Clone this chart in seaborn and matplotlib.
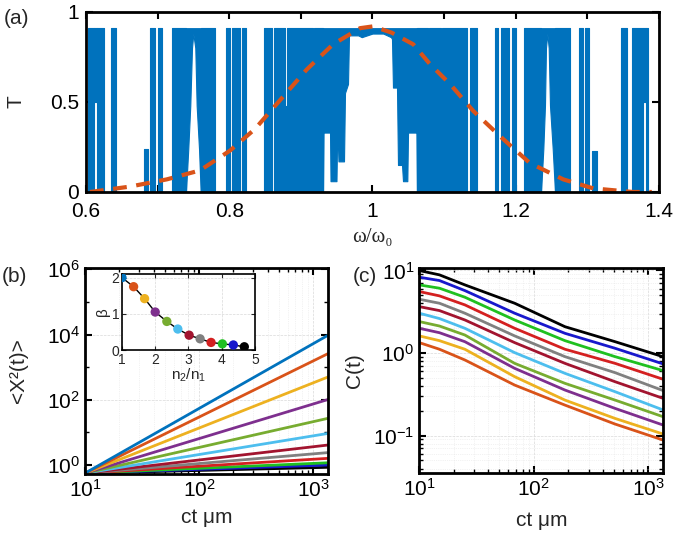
import numpy as np
import pandas as pd
import matplotlib
matplotlib.use("Agg")
import matplotlib.pyplot as plt
import matplotlib.ticker as mticker
import seaborn as sns

sns.set_style("ticks")
plt.rcParams['font.family'] = ['Liberation Sans', 'DejaVu Sans']
plt.rcParams['mathtext.fontset'] = 'custom'
plt.rcParams['mathtext.rm'] = 'Liberation Sans'
plt.rcParams['mathtext.it'] = 'Liberation Sans:italic'
plt.rcParams['axes.unicode_minus'] = False

# ---------------- (a) transmission spectrum ----------------
seg_start = [0.6032, 0.6116, 0.6149, 0.6345, 0.6810, 0.6894, 0.7005, 0.7205, 0.7601,
             0.7955, 0.8038, 0.8182, 0.8485, 0.8629, 0.8785, 0.8800, 0.9170, 0.9183,
             1.0621, 1.0768, 1.0782, 1.0960, 1.0973, 1.1361, 1.1710, 1.1794, 1.1943,
             1.2119, 1.2548, 1.2883, 1.2966, 1.3069, 1.3467, 1.3617, 1.3781, 1.3815]
seg_end = [0.6116, 0.6149, 0.6251, 0.6415, 0.6870, 0.6968, 0.7061, 0.7396, 0.7801,
           0.8011, 0.8150, 0.8234, 0.8593, 0.8785, 0.8800, 0.9170, 0.9183, 0.9309,
           1.0768, 1.0782, 1.0960, 1.0973, 1.1319, 1.1463, 1.1756, 1.1910, 1.1999,
           1.2353, 1.2757, 1.2935, 1.3022, 1.3130, 1.3560, 1.3781, 1.3815, 1.3851]
seg_low = [0, 0.50, 0, 0, 0, 0, 0, 0, 0,
           0, 0, 0, 0, 0, 0, 0, 0, 0,
           0, 0, 0, 0, 0, 0, 0, 0, 0,
           0, 0, 0, 0, 0, 0, 0, 0.50, 0]
seg_high = [0.91, 0.91, 0.91, 0.91, 0.24, 0.91, 0.91, 0.91, 0.91,
            0.91, 0.91, 0.91, 0.91, 0.91, 0.48, 0.91, 0.45, 0.91,
            0.91, 0.48, 0.91, 0.50, 0.91, 0.91, 0.91, 0.91, 0.91,
            0.91, 0.91, 0.91, 0.91, 0.23, 0.91, 0.91, 0.91, 0.91]

# bands whose lower edge is lifted (resonance notches and the central pass band)
notch_l_w = [0.7396, 0.7428, 0.7456, 0.7480, 0.7498, 0.7526, 0.7545, 0.7578, 0.7601]
notch_l_t = [0, 0.24, 0.48, 0.80, 0.88, 0.80, 0.48, 0.24, 0]
notch_r_w = [1.2353, 1.2385, 1.2408, 1.2422, 1.2441, 1.2460, 1.2478, 1.2516, 1.2548]
notch_r_t = [0, 0.24, 0.48, 0.80, 0.88, 0.80, 0.48, 0.24, 0]
center_w = [0.9309, 0.9316, 0.9407, 0.9414, 0.9497, 0.9504, 0.9518, 0.9525, 0.9602,
            0.9616, 0.9658, 0.9672, 0.9800, 0.9850, 1.0000, 1.0150, 1.0258, 1.0272,
            1.0286, 1.0342, 1.0356, 1.0412, 1.0426, 1.0486, 1.0496, 1.0614, 1.0621]
center_t = [0, 0.33, 0.33, 0.06, 0.06, 0.25, 0.25, 0.17, 0.17,
            0.55, 0.60, 0.87, 0.87, 0.86, 0.88, 0.88, 0.86, 0.85,
            0.58, 0.58, 0.15, 0.15, 0.06, 0.06, 0.33, 0.33, 0]
band_top = 0.91

# dashed envelope
omega_fit = [0.6056, 0.6614, 0.7127, 0.7592, 0.8011, 0.8359, 0.8709, 0.9081, 0.9448,
             0.9826, 1.0007, 1.0268, 1.0570, 1.0803, 1.1082, 1.1407, 1.1780, 1.2199,
             1.2664, 1.3083, 1.3637, 1.3900]
T_fit = [0.00, 0.03, 0.07, 0.12, 0.23, 0.35, 0.51, 0.68, 0.82,
         0.91, 0.92, 0.885, 0.82, 0.71, 0.60, 0.45, 0.31, 0.16,
         0.07, 0.02, 0.00, 0.00]

# ---------------- (b) mean square displacement ----------------
t_b = [10, 1350]
msd_start = 0.56
msd_end = [9.5e3, 2.6e3, 5.0e2, 1.02e2, 27, 9.3, 4.1, 2.4, 1.6, 1.17, 1.0, 0.85]

# inset: beta vs n2/n1
ratio = [1.0, 1.35, 1.68, 2.0, 2.35, 2.68, 3.02, 3.35, 3.68, 4.02, 4.35, 4.68]
beta = [2.0, 1.75, 1.42, 1.05, 0.79, 0.58, 0.41, 0.31, 0.21, 0.17, 0.14, 0.09]

# ---------------- (c) correlation C(t) ----------------
t_c = [10, 15, 25, 68, 187, 512, 1350]
C_curves = {
    'k':  [9.95, 8.82, 6.67, 4.00, 2.08, 1.37, 0.90],
    'b2': [8.26, 7.53, 5.69, 3.03, 1.73, 1.14, 0.736],
    'g2': [6.67, 6.08, 4.73, 2.51, 1.41, 0.903, 0.611],
    'r2': [5.54, 4.91, 3.82, 1.99, 1.11, 0.749, 0.48],
    'gr': [4.47, 4.00, 3.03, 1.61, 0.903, 0.578, 0.35],
    'dr': [3.64, 3.26, 2.51, 1.335, 0.749, 0.449, 0.282],
    'lb': [3.03, 2.61, 1.99, 1.01, 0.567, 0.34, 0.204],
    'g1': [2.40, 2.12, 1.65, 0.749, 0.429, 0.269, 0.169],
    'pu': [1.99, 1.76, 1.37, 0.652, 0.356, 0.2135, 0.134],
    'ye': [1.61, 1.41, 1.11, 0.517, 0.269, 0.1614, 0.1043],
    'or': [1.335, 1.11, 0.823, 0.409, 0.234, 0.138, 0.0882],
}

keys = ['b1', 'or', 'ye', 'pu', 'g1', 'lb', 'dr', 'gr', 'r2', 'g2', 'b2', 'k']
pal = {'b1': '#0072BD', 'or': '#D95319', 'ye': '#EDB120', 'pu': '#7E2F8E',
       'g1': '#77AC30', 'lb': '#4DBEEE', 'dr': '#A2142F', 'gr': '#808080',
       'r2': '#D42020', 'g2': '#20C020', 'b2': '#1818CC', 'k': '#000000'}
BLUE = '#0072BD'
FS = 15

fig = plt.figure(figsize=(6.75, 5.39), dpi=100)


def frame(ax, lw=2.0):
    for s in ax.spines.values():
        s.set_linewidth(lw)
        s.set_color('k')
        s.set_visible(True)
    ax.tick_params(which='both', direction='in', top=True, right=True,
                   labelsize=FS, colors='k')
    ax.tick_params(which='major', length=5, width=1.5)
    ax.tick_params(which='minor', length=3, width=1.0)


# ---- panel (a)
ax_a = fig.add_axes([0.1274, 0.6438, 0.8489, 0.3340])
for s, e, lo, hi in zip(seg_start, seg_end, seg_low, seg_high):
    ax_a.fill_between([s, e], lo, hi, color=BLUE, lw=0.8, edgecolor=BLUE)
for w, t in [(notch_l_w, notch_l_t), (notch_r_w, notch_r_t), (center_w, center_t)]:
    ax_a.fill_between(w, t, band_top, color=BLUE, lw=0.8, edgecolor=BLUE)
sns.lineplot(x=omega_fit, y=T_fit, ax=ax_a, color='#D95319', lw=3.0,
             linestyle=(0, (3.3, 2.3)))
ax_a.set_xlim(0.6, 1.4)
ax_a.set_ylim(0, 1)
ax_a.xaxis.set_major_locator(mticker.MultipleLocator(0.2))
ax_a.xaxis.set_minor_locator(mticker.MultipleLocator(0.1))
ax_a.xaxis.set_major_formatter(mticker.FuncFormatter(lambda v, p: f'{v:g}'))
ax_a.set_yticks([0, 0.5, 1])
ax_a.set_yticklabels(['0', '0.5', '1'])
frame(ax_a)
ax_a.tick_params(which='minor', length=5, width=1.5)
ax_a.tick_params(axis='x', pad=7)
ax_a.tick_params(axis='y', pad=5)
ax_a.set_xlabel('ω/ω₀', family=['Liberation Serif', 'DejaVu Serif'], fontsize=15)
ax_a.xaxis.set_label_coords(0.5, -0.2)
ax_a.xaxis.label.set_va('top')
ax_a.set_ylabel('T', fontsize=FS)
ax_a.yaxis.set_label_coords(-0.105, 0.5)

# ---- panel (b)
ax_b = fig.add_axes([0.1259, 0.1206, 0.3600, 0.3822])
rows = []
for k, end in zip(keys, msd_end):
    rows.append({'t': t_b[0], 'msd': msd_start, 'curve': k})
    rows.append({'t': t_b[1], 'msd': end, 'curve': k})
df_b = pd.DataFrame(rows)
sns.lineplot(data=df_b, x='t', y='msd', hue='curve', hue_order=keys[::-1],
             palette=pal, lw=2.0, legend=False, ax=ax_b)
ax_b.set_xscale('log')
ax_b.set_yscale('log')
ax_b.set_xlim(10, 1350)
ax_b.set_ylim(0.53, 1.1e6)
ax_b.yaxis.set_major_locator(mticker.FixedLocator([1, 1e2, 1e4, 1e6]))
ax_b.yaxis.set_major_formatter(mticker.LogFormatterSciNotation())
ax_b.yaxis.set_minor_locator(mticker.FixedLocator([10, 1e3, 1e5]))
ax_b.yaxis.set_minor_formatter(mticker.NullFormatter())
ax_b.grid(True, which='major', color='0.85', ls='--', lw=0.5)
ax_b.grid(True, which='minor', axis='x', color='0.9', ls=':', lw=0.5)
frame(ax_b)
ax_b.set_xlabel('ct μm', fontsize=FS)
ax_b.xaxis.set_label_coords(0.5, -0.165)
ax_b.xaxis.label.set_va('top')
ax_b.set_ylabel('<X²(t)>', fontsize=FS)
ax_b.yaxis.set_label_coords(-0.235, 0.5)

# inset
ax_i = fig.add_axes([0.1807, 0.3506, 0.1970, 0.1410])
sns.lineplot(x=ratio, y=beta, ax=ax_i, color='k', lw=1.0)
sns.scatterplot(x=ratio, y=beta, hue=keys, palette=pal, s=45, edgecolor='none',
                legend=False, ax=ax_i, zorder=3)
ax_i.set_xlim(1, 5)
ax_i.set_ylim(0, 2.1)
ax_i.set_xticks([1, 2, 3, 4, 5])
ax_i.set_yticks([0, 1, 2])
ax_i.grid(True, color='0.85', ls='--', lw=0.5)
for s in ax_i.spines.values():
    s.set_linewidth(1.2)
    s.set_color('k')
ax_i.tick_params(direction='in', top=True, right=True, labelsize=10, length=3,
                 pad=2)
ax_i.set_xlabel('n$_2$/n$_1$', fontsize=11, labelpad=0)
ax_i.set_ylabel('β', fontsize=11, labelpad=1)
ax_i.set_facecolor('white')

# ---- panel (c)
ax_c = fig.add_axes([0.6212, 0.1219, 0.3615, 0.3810])
df_c = pd.DataFrame([{'t': t, 'C': v, 'curve': k}
                     for k, vals in C_curves.items() for t, v in zip(t_c, vals)])
sns.lineplot(data=df_c, x='t', y='C', hue='curve', hue_order=list(C_curves),
             palette=pal, lw=2.0, legend=False, ax=ax_c)
ax_c.set_xscale('log')
ax_c.set_yscale('log')
ax_c.set_xlim(10, 1350)
ax_c.set_ylim(0.035, 10.7)
ax_c.yaxis.set_major_locator(mticker.FixedLocator([0.1, 1, 10]))
ax_c.yaxis.set_major_formatter(mticker.LogFormatterSciNotation())
ax_c.grid(True, which='major', color='0.85', ls='--', lw=0.5)
ax_c.grid(True, which='minor', color='0.9', ls=':', lw=0.5)
frame(ax_c)
ax_c.set_xlabel('ct μm', fontsize=FS)
ax_c.xaxis.set_label_coords(0.5, -0.185)
ax_c.xaxis.label.set_va('top')
ax_c.set_ylabel('C(t)', fontsize=FS)
ax_c.yaxis.set_label_coords(-0.225, 0.5)

fig.text(0.006, 1 - 18 / 539, '(a)', fontsize=FS, va='center')
fig.text(0.002, 1 - 276 / 539, '(b)', fontsize=FS, va='center')
fig.text(353 / 675, 1 - 276 / 539, '(c)', fontsize=FS, va='center')

fig.savefig('out.png', dpi=100)
